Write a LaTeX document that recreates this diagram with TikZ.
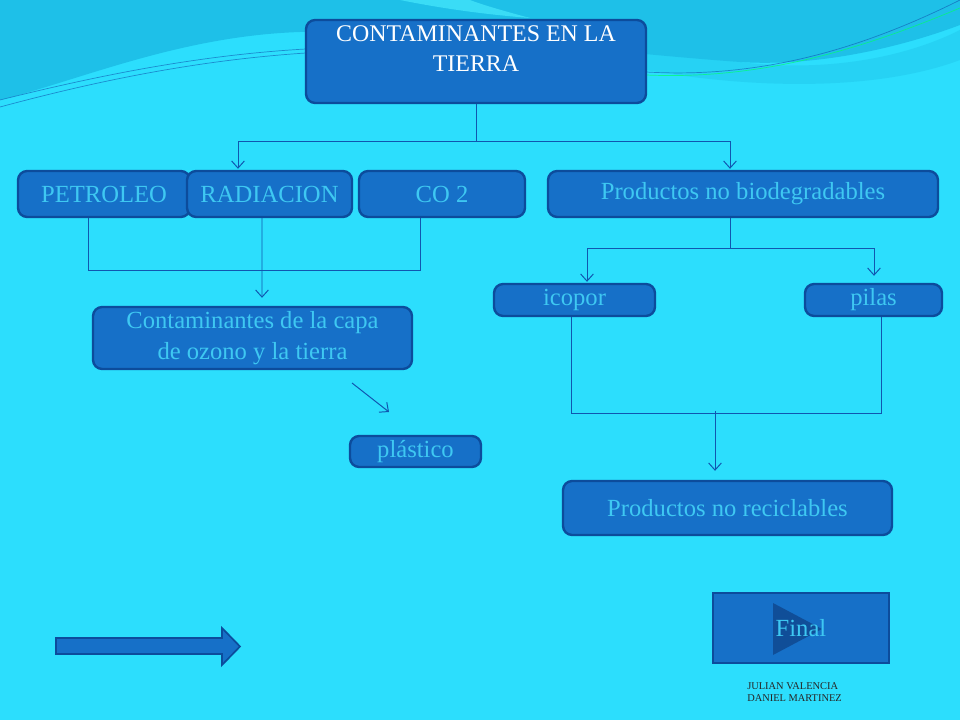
\documentclass[tikz,border=0pt]{standalone}
\usepackage{fontspec}
\setmainfont{Liberation Serif}
\usetikzlibrary{arrows.meta,calc}

\definecolor{fondo}{RGB}{44,222,253}
\definecolor{fondoosc}{RGB}{30,192,232}
\definecolor{fondomedio}{RGB}{38,210,244}
\definecolor{fondoclaro}{RGB}{70,232,252}
\definecolor{azulcaja}{RGB}{22,112,200}
\definecolor{bordeazul}{RGB}{12,76,156}
\definecolor{textocian}{RGB}{62,200,242}
\definecolor{lineaazul}{RGB}{16,86,176}
\definecolor{triangulo}{RGB}{16,78,152}

\tikzset{
  caja/.style={draw=bordeazul, fill=azulcaja, line width=1.7pt, rounded corners=6.5pt,
    text=textocian, font=\fontsize{17.5}{22}\selectfont, inner sep=0pt, align=center},
  tam/.style 2 args={minimum width=#1*0.025cm, minimum height=#2*0.025cm},
  linea/.style={draw=lineaazul, line width=0.7pt},
  flecha/.style={linea, -{Straight Barb[length=5pt,width=9pt]}},
}

\begin{document}
\begin{tikzpicture}[x=0.025cm,y=-0.025cm]
    \fill[fondo] (0,0) rectangle (960,720);
    \useasboundingbox (0,0) rectangle (960,720);
    % ondas del fondo
    \fill[fondomedio] (646,40) .. controls (760,80) and (880,70) .. (960,30) -- (960,60)
      .. controls (880,90) and (760,90) .. (646,70) -- cycle;
    \fill[fondoosc] (0,0) -- (960,0) -- (960,25) .. controls (880,55) and (800,66) .. (740,62)
      .. controls (600,52) and (420,28) .. (300,32) .. controls (180,36) and (80,80) .. (0,100) -- cycle;
    \fill[fondoclaro,opacity=0.7] (400,0) .. controls (440,8) and (480,14) .. (530,18)
      .. controls (500,10) and (480,4) .. (470,0) -- cycle;
    \draw[lineaazul,opacity=0.6,line width=0.5pt] (0,100) .. controls (100,75) and (200,55) .. (306,49);
    \draw[lineaazul,opacity=0.6,line width=0.5pt] (0,107) .. controls (100,80) and (200,60) .. (306,53);
    \draw[lineaazul,opacity=0.6,line width=0.5pt] (646,72) .. controls (750,78) and (850,55) .. (960,0);
    \draw[green!60!cyan,opacity=0.7,line width=0.5pt] (646,75) .. controls (760,80) and (860,50) .. (960,8);

    % cajas
    \node[caja,tam={340}{83},label={[text=white,font=\fontsize{17}{21}\selectfont,align=center,anchor=north,yshift=-0.05cm]north:{CONTAMINANTES EN LA\\TIERRA}}] (tierra) at (476,61.5) {};
    \node[caja,tam={172}{46}] (petroleo) at (104,194) {PETROLEO};
    \node[caja,tam={165}{46}] (radiacion) at (269.5,194) {RADIACION};
    \node[caja,tam={166}{46}] (co2) at (442,194) {CO 2};
    \node[caja,tam={390}{46}] (nobio) at (743,194) {Productos no biodegradables};
    \node[caja,tam={319}{62}] (ozono) at (252.5,338) {Contaminantes de la capa\\de ozono y la tierra};
    \node[caja,tam={161}{32}] (icopor) at (574.5,300) {icopor};
    \node[caja,tam={137}{32}] (pilas) at (873.5,300) {pilas};
    \node[caja,tam={329}{54}] (noreci) at (727.5,508) {Productos no reciclables};
    \node[caja,tam={131}{31}] (plastico) at (415.5,451.5) {pl\'astico};

    % conectores
    \draw[linea] (tierra.south) -- ++(0,37) coordinate (t1);
    \draw[flecha] (t1) -| ($(radiacion.north)+(-31.5,-1)$);
    \draw[flecha] (t1) -| ($(nobio.north)+(-13,-1)$);
    \draw[linea] ($(petroleo.south)+(-16,0)$) |- ($(co2.south)+(-22,52)$) -- ($(co2.south)+(-22,0)$);
    \draw[flecha] ($(radiacion.south)+(-7.5,0)$) -- ($(ozono.north)+(9.5,-8)$);
    \draw[linea] ($(nobio.south)+(-13,0)$) -- ++(0,30) coordinate (n1);
    \draw[flecha] (n1) -| ($(icopor.north)+(12.5,-1)$);
    \draw[flecha] (n1) -| ($(pilas.north)+(0.5,-7)$);
    \draw[linea] ($(icopor.south)+(-3.5,0)$) |- ($(pilas.south)+(7.5,96)$) -- ($(pilas.south)+(7.5,0)$);
    \draw[flecha] ($(noreci.north)+(-12.5,-69)$) -- ($(noreci.north)+(-12.5,-9)$);
    \coordinate (p1) at (352,383);
    \coordinate (p2) at (389,412);
    \draw[flecha] (p1) -- (p2);

    % boton final
    \node[draw=bordeazul,fill=azulcaja,line width=1.4pt,tam={176}{70}] (final) at (801,628) {};
    \fill[triangulo] (773,603) -- (822,629) -- (773,655) -- cycle;
    \node[text=textocian,font=\fontsize{17.5}{22}\selectfont] (txtfinal) at (final.center) {Final};

    % flecha de bloque
    \draw[fill=azulcaja,draw=bordeazul,line width=1.2pt] (56,638) -- (222,638) -- (222,628) -- (240,646.5)
      -- (222,665) -- (222,654) -- (56,654) -- cycle;

    % autores
    \node[anchor=north west,inner sep=0pt,align=left,font=\fontsize{7.4}{8.5}\selectfont,text=black!85] (autores)
      at (747,682) {JULIAN VALENCIA\\DANIEL MARTINEZ};
\end{tikzpicture}
\end{document}
